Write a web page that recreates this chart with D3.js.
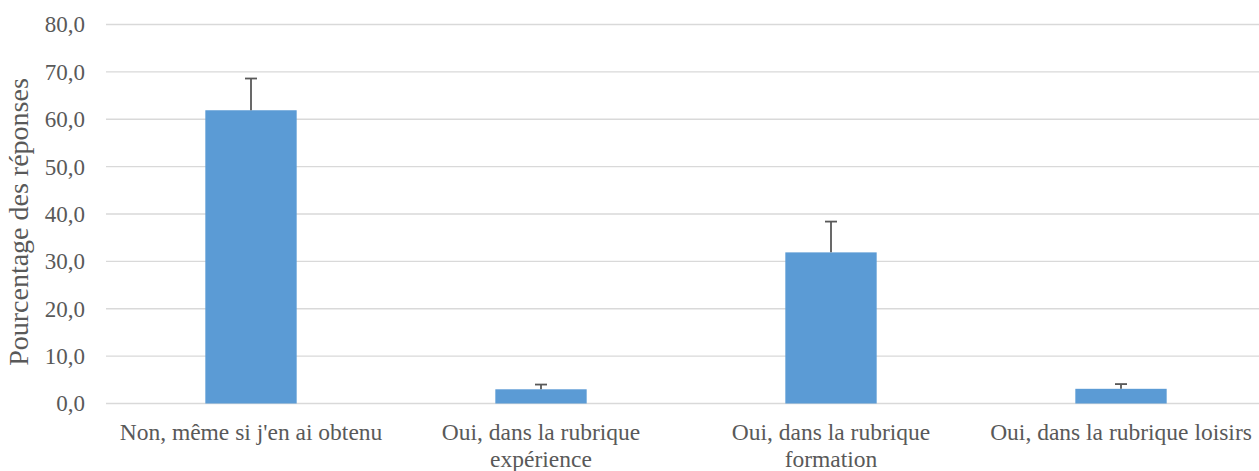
<!DOCTYPE html>
<html>
<head>
<meta charset="utf-8">
<script src="https://cdn.jsdelivr.net/npm/d3@7"></script>
<style>
  html, body { margin: 0; padding: 0; background: #ffffff; overflow: hidden; }
  svg { display: block; font-family: "Liberation Serif", "Times New Roman", serif; }
</style>
</head>
<body>
<svg id="chart" width="1259" height="471"></svg>
<script>
// Categories (two-line labels where wrapped)
const categories = [
  ["Non, même si j'en ai obtenu"],
  ["Oui, dans la rubrique", "expérience"],
  ["Oui, dans la rubrique", "formation"],
  ["Oui, dans la rubrique loisirs"]
];
const values = [61.9, 3.0, 31.9, 3.1];
const errors = [6.7, 1.0, 6.5, 1.0];
const yTicks = [0, 10, 20, 30, 40, 50, 60, 70, 80];
const yLabel = "Pourcentage des réponses";

const svg = d3.select("#chart");
const W = 1259, H = 471;
const margin = { top: 24.5, left: 106 };
const innerH = 379;
const plotW = 1160;            // full category extent (runs past the right edge)
const gridW = W - margin.left; // gridlines reach the right edge

const g = svg.append("g").attr("transform", `translate(${margin.left},${margin.top})`);

const x = d3.scaleBand()
  .domain(d3.range(categories.length))
  .range([0, plotW])
  .paddingInner(0.685)
  .paddingOuter(0.3425);

const y = d3.scaleLinear().domain([0, 80]).range([innerH, 0]);

const textColor = "#595959";

// Gridlines
g.append("g")
  .selectAll("line")
  .data(yTicks)
  .join("line")
  .attr("x1", 0).attr("x2", gridW)
  .attr("y1", d => y(d)).attr("y2", d => y(d))
  .attr("stroke", "#d9d9d9")
  .attr("stroke-width", 1.3);

// Y axis tick labels
const yAxis = d3.axisLeft(y).tickValues(yTicks).tickSize(0).tickPadding(21)
  .tickFormat(d => d3.format(".1f")(d).replace(".", ","));
const ya = g.append("g").call(yAxis);
ya.select(".domain").remove();
ya.selectAll("text")
  .attr("fill", textColor)
  .style("font-family", "'Liberation Serif', 'Times New Roman', serif")
  .style("font-size", "23px");

// Bars
g.append("g")
  .selectAll("rect")
  .data(values)
  .join("rect")
  .attr("x", (d, i) => x(i))
  .attr("y", d => y(d))
  .attr("width", x.bandwidth())
  .attr("height", d => y(0) - y(d))
  .attr("fill", "#5b9bd5");

// Error bars (upper only)
const eg = g.append("g").attr("stroke", "#595959").attr("stroke-width", 1.8);
values.forEach((v, i) => {
  const cx = x(i) + x.bandwidth() / 2;
  eg.append("line")
    .attr("x1", cx).attr("x2", cx)
    .attr("y1", y(v)).attr("y2", y(v + errors[i]));
  eg.append("line")
    .attr("x1", cx - 6).attr("x2", cx + 6)
    .attr("y1", y(v + errors[i])).attr("y2", y(v + errors[i]));
});

// Category labels
const xl = g.append("g");
categories.forEach((lines, i) => {
  const cx = x(i) + x.bandwidth() / 2;
  const t = xl.append("text")
    .attr("x", cx)
    .attr("y", innerH + 36)
    .attr("text-anchor", "middle")
    .attr("fill", textColor)
    .style("font-size", "23.5px");
  lines.forEach((ln, k) => {
    t.append("tspan").attr("x", cx).attr("dy", k === 0 ? 0 : 27.5).text(ln);
  });
});

// Y axis title
svg.append("text")
  .attr("transform", `translate(28,222) rotate(-90)`)
  .attr("text-anchor", "middle")
  .attr("fill", textColor)
  .style("font-size", "28px")
  .text(yLabel);
</script>
</body>
</html>
